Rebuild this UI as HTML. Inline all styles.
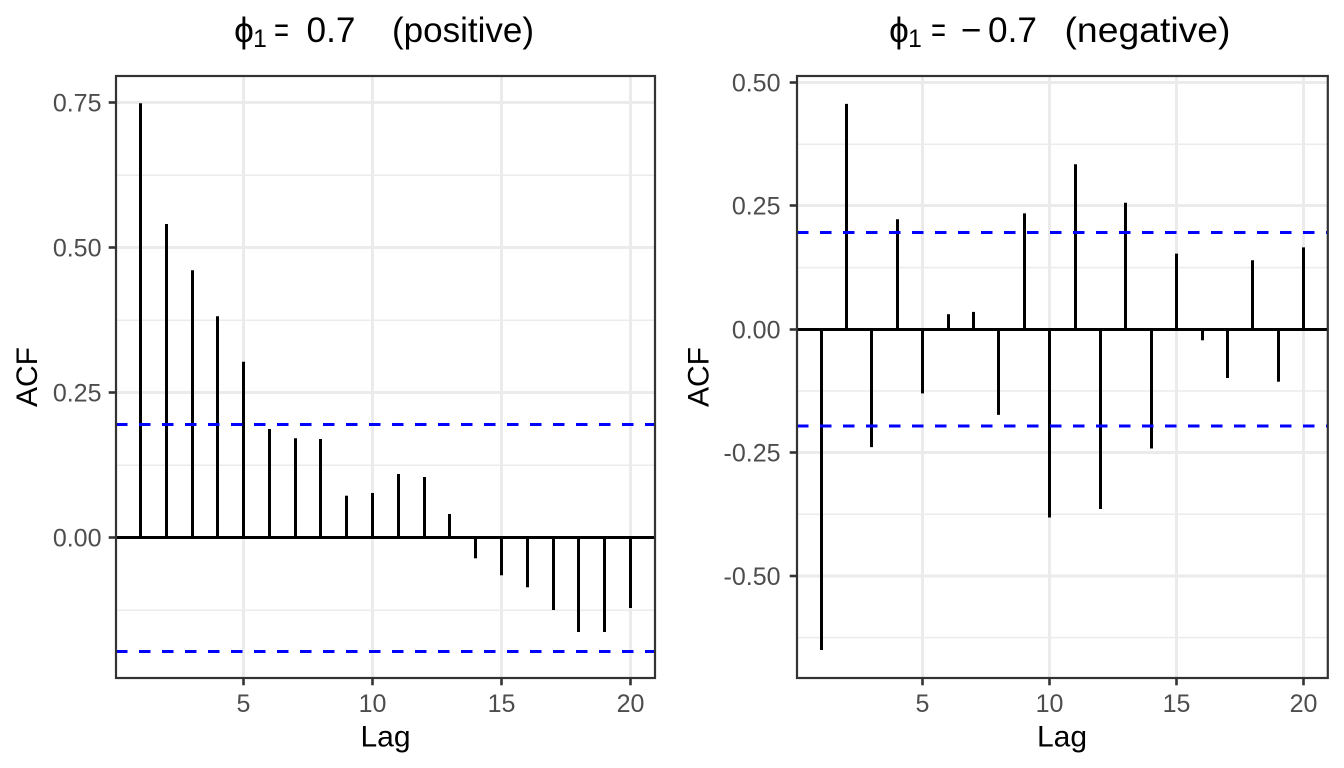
<!DOCTYPE html>
<html><head><meta charset="utf-8"><style>
html,body{margin:0;padding:0;background:#fff;}
svg{display:block;}
text{font-family:"Liberation Sans",Arial,Helvetica,"DejaVu Sans",sans-serif;}
</style></head><body>
<svg width="1344" height="768" viewBox="0 0 1344 768" xmlns="http://www.w3.org/2000/svg">
<rect width="1344" height="768" fill="#fff"/>

<!-- ============ LEFT PANEL ============ -->
<g>
  <g stroke="#EBEBEB" stroke-width="1.5">
    <line x1="116" x2="655" y1="175.2" y2="175.2"/>
    <line x1="116" x2="655" y1="320.2" y2="320.2"/>
    <line x1="116" x2="655" y1="465.2" y2="465.2"/>
    <line x1="116" x2="655" y1="610.2" y2="610.2"/>
  </g>
  <g stroke="#EBEBEB" stroke-width="3">
    <line x1="116" x2="655" y1="102.5" y2="102.5"/>
    <line x1="116" x2="655" y1="247.5" y2="247.5"/>
    <line x1="116" x2="655" y1="392.5" y2="392.5"/>
    <line x1="243.5" x2="243.5" y1="76" y2="678"/>
    <line x1="372.5" x2="372.5" y1="76" y2="678"/>
    <line x1="501.5" x2="501.5" y1="76" y2="678"/>
    <line x1="630.5" x2="630.5" y1="76" y2="678"/>
  </g>
  <g stroke="#000" stroke-width="3">
    <line x1="140.5" x2="140.5" y1="537.5" y2="103.3"/>
    <line x1="166.5" x2="166.5" y1="537.5" y2="224"/>
    <line x1="192.5" x2="192.5" y1="537.5" y2="270.3"/>
    <line x1="217.5" x2="217.5" y1="537.5" y2="316.3"/>
    <line x1="243.5" x2="243.5" y1="537.5" y2="361.7"/>
    <line x1="269.5" x2="269.5" y1="537.5" y2="429"/>
    <line x1="295.5" x2="295.5" y1="537.5" y2="438.3"/>
    <line x1="320.5" x2="320.5" y1="537.5" y2="439"/>
    <line x1="346.5" x2="346.5" y1="537.5" y2="495.7"/>
    <line x1="372.5" x2="372.5" y1="537.5" y2="493"/>
    <line x1="398.5" x2="398.5" y1="537.5" y2="474"/>
    <line x1="424.5" x2="424.5" y1="537.5" y2="477"/>
    <line x1="449.5" x2="449.5" y1="537.5" y2="514"/>
    <line x1="475.5" x2="475.5" y1="537.5" y2="558.3"/>
    <line x1="501.5" x2="501.5" y1="537.5" y2="575.3"/>
    <line x1="527.5" x2="527.5" y1="537.5" y2="587.3"/>
    <line x1="553.5" x2="553.5" y1="537.5" y2="610"/>
    <line x1="578.5" x2="578.5" y1="537.5" y2="632"/>
    <line x1="604.5" x2="604.5" y1="537.5" y2="632"/>
    <line x1="630.5" x2="630.5" y1="537.5" y2="608"/>
    <line x1="116" x2="655" y1="537.5" y2="537.5"/>
  </g>
  <g stroke="#0000FF" stroke-width="3" stroke-dasharray="11.5 11.5">
    <line x1="116" x2="655" y1="424.5" y2="424.5"/>
    <line x1="116" x2="655" y1="651.5" y2="651.5"/>
  </g>
  <rect x="116" y="76" width="539" height="602" fill="none" stroke="#333" stroke-width="2.2"/>
  <g stroke="#333" stroke-width="2.6">
    <line x1="108.7" x2="116" y1="102.5" y2="102.5"/>
    <line x1="108.7" x2="116" y1="247.5" y2="247.5"/>
    <line x1="108.7" x2="116" y1="392.5" y2="392.5"/>
    <line x1="108.7" x2="116" y1="537.5" y2="537.5"/>
    <line x1="243.5" x2="243.5" y1="678" y2="685.3"/>
    <line x1="372.5" x2="372.5" y1="678" y2="685.3"/>
    <line x1="501.5" x2="501.5" y1="678" y2="685.3"/>
    <line x1="630.5" x2="630.5" y1="678" y2="685.3"/>
  </g>
  <g fill="#4D4D4D" font-size="25" text-anchor="end">
    <text x="101.5" y="111.5">0.75</text>
    <text x="101.5" y="256.5">0.50</text>
    <text x="101.5" y="401.5">0.25</text>
    <text x="101.5" y="546.5">0.00</text>
  </g>
  <g fill="#4D4D4D" font-size="25" text-anchor="middle">
    <text x="243.5" y="712">5</text>
    <text x="372.5" y="712">10</text>
    <text x="501.5" y="712">15</text>
    <text x="630.5" y="712">20</text>
  </g>
  <text x="385.5" y="746.7" font-size="30" text-anchor="middle" fill="#000">Lag</text>
  <text transform="translate(37,377) rotate(-90)" font-size="30" text-anchor="middle" fill="#000">ACF</text>
  <g fill="#000" text-anchor="middle">
    <text x="244" y="42" font-size="35.2">ϕ</text>
    <text x="260" y="47" font-size="24.6">1</text>
    <text transform="translate(281.5,42) scale(0.72,1)" font-size="35.2">=</text>
    <text x="331" y="42" font-size="35.2">0.7</text>
    <text x="463" y="42" font-size="35.2" textLength="142" lengthAdjust="spacingAndGlyphs">(positive)</text>
  </g>
</g>

<!-- ============ RIGHT PANEL ============ -->
<g>
  <g stroke="#EBEBEB" stroke-width="1.5">
    <line x1="797" x2="1327.8" y1="144.3" y2="144.3"/>
    <line x1="797" x2="1327.8" y1="267.6" y2="267.6"/>
    <line x1="797" x2="1327.8" y1="391.0" y2="391.0"/>
    <line x1="797" x2="1327.8" y1="514.3" y2="514.3"/>
    <line x1="797" x2="1327.8" y1="637.6" y2="637.6"/>
  </g>
  <g stroke="#EBEBEB" stroke-width="3">
    <line x1="797" x2="1327.8" y1="82.5" y2="82.5"/>
    <line x1="797" x2="1327.8" y1="205.5" y2="205.5"/>
    <line x1="797" x2="1327.8" y1="452.5" y2="452.5"/>
    <line x1="797" x2="1327.8" y1="576" y2="576"/>
    <line x1="922.5" x2="922.5" y1="76" y2="678"/>
    <line x1="1049.5" x2="1049.5" y1="76" y2="678"/>
    <line x1="1176.5" x2="1176.5" y1="76" y2="678"/>
    <line x1="1303.5" x2="1303.5" y1="76" y2="678"/>
  </g>
  <g stroke="#000" stroke-width="3">
    <line x1="821.5" x2="821.5" y1="329.5" y2="650.0"/>
    <line x1="846.5" x2="846.5" y1="329.5" y2="103.9"/>
    <line x1="871.5" x2="871.5" y1="329.5" y2="447.1"/>
    <line x1="897.5" x2="897.5" y1="329.5" y2="219.3"/>
    <line x1="922.5" x2="922.5" y1="329.5" y2="393.4"/>
    <line x1="948.5" x2="948.5" y1="329.5" y2="314.2"/>
    <line x1="973.5" x2="973.5" y1="329.5" y2="311.9"/>
    <line x1="998.5" x2="998.5" y1="329.5" y2="414.9"/>
    <line x1="1024.5" x2="1024.5" y1="329.5" y2="213.4"/>
    <line x1="1049.5" x2="1049.5" y1="329.5" y2="517.5"/>
    <line x1="1075.5" x2="1075.5" y1="329.5" y2="164.3"/>
    <line x1="1100.5" x2="1100.5" y1="329.5" y2="509.0"/>
    <line x1="1125.5" x2="1125.5" y1="329.5" y2="202.7"/>
    <line x1="1151.5" x2="1151.5" y1="329.5" y2="448.5"/>
    <line x1="1176.5" x2="1176.5" y1="329.5" y2="253.6"/>
    <line x1="1202.5" x2="1202.5" y1="329.5" y2="340.3"/>
    <line x1="1227.5" x2="1227.5" y1="329.5" y2="378.0"/>
    <line x1="1252.5" x2="1252.5" y1="329.5" y2="260.3"/>
    <line x1="1278.5" x2="1278.5" y1="329.5" y2="381.7"/>
    <line x1="1303.5" x2="1303.5" y1="329.5" y2="247.4"/>
    <line x1="797" x2="1327.8" y1="329.5" y2="329.5"/>
  </g>
  <g stroke="#0000FF" stroke-width="3" stroke-dasharray="11.5 11.5">
    <line x1="797" x2="1327.8" y1="232.5" y2="232.5"/>
    <line x1="797" x2="1327.8" y1="426" y2="426"/>
  </g>
  <rect x="797" y="76" width="530.8" height="602" fill="none" stroke="#333" stroke-width="2.2"/>
  <g stroke="#333" stroke-width="2.6">
    <line x1="789.7" x2="797" y1="82.5" y2="82.5"/>
    <line x1="789.7" x2="797" y1="205.5" y2="205.5"/>
    <line x1="789.7" x2="797" y1="329.5" y2="329.5"/>
    <line x1="789.7" x2="797" y1="452.5" y2="452.5"/>
    <line x1="789.7" x2="797" y1="576" y2="576"/>
    <line x1="922.5" x2="922.5" y1="678" y2="685.3"/>
    <line x1="1049.5" x2="1049.5" y1="678" y2="685.3"/>
    <line x1="1176.5" x2="1176.5" y1="678" y2="685.3"/>
    <line x1="1303.5" x2="1303.5" y1="678" y2="685.3"/>
  </g>
  <g fill="#4D4D4D" font-size="25" text-anchor="end">
    <text x="780.5" y="91.5">0.50</text>
    <text x="780.5" y="214.5">0.25</text>
    <text x="780.5" y="338.5">0.00</text>
    <text x="780.5" y="461.5">-0.25</text>
    <text x="780.5" y="585">-0.50</text>
  </g>
  <g fill="#4D4D4D" font-size="25" text-anchor="middle">
    <text x="922.5" y="712">5</text>
    <text x="1049.5" y="712">10</text>
    <text x="1176.5" y="712">15</text>
    <text x="1303.5" y="712">20</text>
  </g>
  <text x="1062" y="746.7" font-size="30" text-anchor="middle" fill="#000">Lag</text>
  <text transform="translate(708.5,377) rotate(-90)" font-size="30" text-anchor="middle" fill="#000">ACF</text>
  <g fill="#000" text-anchor="middle">
    <text x="899" y="42" font-size="35.2">ϕ</text>
    <text x="915" y="47" font-size="24.6">1</text>
    <text transform="translate(938.5,42) scale(0.72,1)" font-size="35.2">=</text>
    <text x="971" y="42" font-size="35.2">−</text>
    <text x="1012.5" y="42" font-size="35.2">0.7</text>
    <text x="1147.5" y="42" font-size="35.2" textLength="166" lengthAdjust="spacingAndGlyphs">(negative)</text>
  </g>
</g>
</svg>
</body></html>
